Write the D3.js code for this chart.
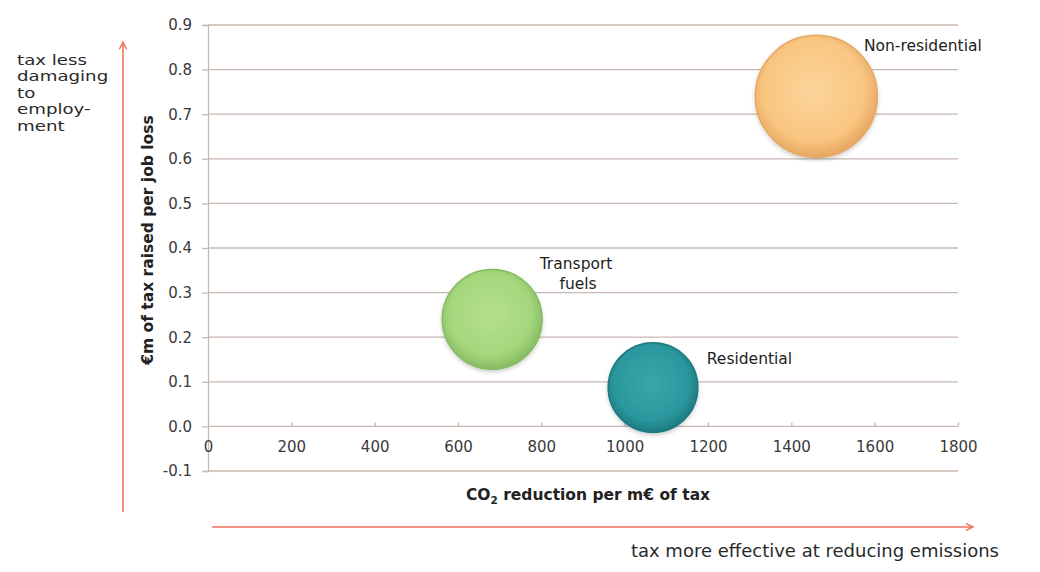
<!DOCTYPE html>
<html>
<head>
<meta charset="utf-8">
<script src="https://cdn.jsdelivr.net/npm/d3@7/dist/d3.min.js"></script>
<style>
  html, body { margin: 0; padding: 0; background: #fff; }
  svg { display: block; font-family: "DejaVu Sans", Verdana, sans-serif; }
</style>
</head>
<body>
<svg id="chart" width="1040" height="572"></svg>
<script>
// Energy tax categories: CO2 reduction per m€ of tax vs €m raised per job loss
const categories = ["Non-residential", "Transport fuels", "Residential"];
const co2Reduction = [1460, 682, 1068];
const taxPerJobLoss = [0.74, 0.24, 0.087];
const bubbleSize = [100, 67, 54];
const xTicks = [0, 200, 400, 600, 800, 1000, 1200, 1400, 1600, 1800];
const yTicks = [-0.1, 0.0, 0.1, 0.2, 0.3, 0.4, 0.5, 0.6, 0.7, 0.8, 0.9];

const palette = [
  { light: "#fcd49c", mid: "#f9c680", dark: "#e6a762" },
  { light: "#b4e08e", mid: "#a5d67c", dark: "#86bb62" },
  { light: "#3aa6ab", mid: "#2b989e", dark: "#1d7a80" }
];

const svg = d3.select("#chart");
const x = d3.scaleLinear().domain([0, 1800]).range([208, 958]);
const y = d3.scaleLinear().domain([-0.1, 0.9]).range([471, 25]);
const r = d3.scaleSqrt().domain([0, 100]).range([0, 61]);

const gridColor = "#c7b8b0";
const textColor = "#3a3a3a";
const arrowColor = "#f0715c";
const fontFamily = "'DejaVu Sans', Verdana, sans-serif";

// horizontal gridlines
svg.append("g").selectAll("line")
  .data(yTicks)
  .join("line")
  .attr("x1", x(0)).attr("x2", x(1800))
  .attr("y1", d => y(d)).attr("y2", d => y(d))
  .attr("stroke", gridColor).attr("stroke-width", 1.3);

// y axis
const fmtY = d => d3.format(".1f")(d).replace("−", "-");
const yAxis = svg.append("g")
  .attr("transform", `translate(${x(0)},0)`)
  .call(d3.axisLeft(y).tickValues(yTicks).tickFormat(fmtY).tickSize(6).tickPadding(10));
yAxis.select(".domain").attr("stroke", gridColor).attr("stroke-width", 1.3);
yAxis.selectAll(".tick line").attr("stroke", gridColor).attr("stroke-width", 1.3);
yAxis.selectAll(".tick text")
  .attr("fill", textColor).attr("font-size", 15)
  .style("font-family", fontFamily);

// x axis along y = 0, labels sitting below
const xAxis = svg.append("g")
  .attr("transform", `translate(0,${y(0)})`)
  .call(d3.axisBottom(x).tickValues(xTicks).tickFormat(d3.format("d")).tickSize(-4).tickPadding(15));
xAxis.select(".domain").remove();
xAxis.selectAll(".tick line").attr("stroke", gridColor).attr("stroke-width", 1.3);
xAxis.selectAll(".tick text")
  .attr("fill", textColor).attr("font-size", 15)
  .style("font-family", fontFamily);

// bubble shading gradients
const defs = svg.append("defs");
palette.forEach((c, i) => {
  const g = defs.append("radialGradient")
    .attr("id", "bub" + i)
    .attr("cx", "48%").attr("cy", "45%").attr("r", "55%");
  g.append("stop").attr("offset", "0%").attr("stop-color", c.light);
  g.append("stop").attr("offset", "75%").attr("stop-color", c.mid);
  g.append("stop").attr("offset", "100%").attr("stop-color", c.dark);
});
const shadow = defs.append("filter").attr("id", "soft")
  .attr("x", "-20%").attr("y", "-20%").attr("width", "140%").attr("height", "140%");
shadow.append("feGaussianBlur").attr("in", "SourceAlpha").attr("stdDeviation", 2).attr("result", "b");
shadow.append("feOffset").attr("in", "b").attr("dy", 2).attr("result", "o");
shadow.append("feComponentTransfer").append("feFuncA").attr("type", "linear").attr("slope", 0.2);
const merge = shadow.append("feMerge");
merge.append("feMergeNode");
merge.append("feMergeNode").attr("in", "SourceGraphic");

const points = categories.map((name, i) => ({
  name, x: co2Reduction[i], y: taxPerJobLoss[i], s: bubbleSize[i], i
}));

svg.append("g").selectAll("circle")
  .data(points)
  .join("circle")
  .attr("cx", d => x(d.x))
  .attr("cy", d => y(d.y))
  .attr("r", d => r(d.s))
  .attr("fill", d => `url(#bub${d.i})`)
  .attr("stroke", d => palette[d.i].dark)
  .attr("stroke-width", 1.5)
  .attr("filter", "url(#soft)");

// bubble labels
const labelOffsets = [
  { dx: 0.78, dy: -0.74, anchor: "start", lines: ["Non-residential"] },
  { dx: 1.68, dy: -1.0, anchor: "middle", lines: ["Transport", "fuels"] },
  { dx: 1.2, dy: -0.52, anchor: "start", lines: ["Residential"] }
];
points.forEach(d => {
  const o = labelOffsets[d.i];
  const rr = r(d.s);
  const lx = x(d.x) + o.dx * rr;
  const t = svg.append("text")
    .attr("x", lx)
    .attr("y", y(d.y) + o.dy * rr)
    .attr("text-anchor", o.anchor)
    .attr("font-size", 15.5)
    .attr("fill", "#222");
  o.lines.forEach((ln, k) => {
    t.append("tspan").attr("x", lx + (k ? 2 : 0)).attr("dy", k ? 20 : 0).text(ln);
  });
});

// axis titles
svg.append("text")
  .attr("transform", `translate(153,${(y(0.12) + y(0.72)) / 2 + 1}) rotate(-90)`)
  .attr("text-anchor", "middle")
  .attr("font-size", 15.5).attr("font-weight", "bold").attr("fill", "#222")
  .text("€m of tax raised per job loss");

const xt = svg.append("text")
  .attr("x", 588).attr("y", 500)
  .attr("text-anchor", "middle")
  .attr("font-size", 15.5).attr("font-weight", "bold").attr("fill", "#222");
xt.append("tspan").text("CO");
xt.append("tspan").attr("font-size", 10.5).attr("dy", 4).text("2");
xt.append("tspan").attr("dy", -4).text(" reduction per m€ of tax");

// direction arrows
defs.append("marker")
  .attr("id", "arrowhead")
  .attr("viewBox", "0 0 10 10").attr("refX", 9).attr("refY", 5)
  .attr("markerWidth", 9).attr("markerHeight", 9)
  .attr("markerUnits", "userSpaceOnUse")
  .attr("orient", "auto")
  .append("path")
  .attr("d", "M1,1 L9,5 L1,9")
  .attr("fill", "none").attr("stroke", arrowColor).attr("stroke-width", 1.6);

svg.append("line")
  .attr("x1", 123).attr("y1", 512).attr("x2", 123).attr("y2", 42)
  .attr("stroke", arrowColor).attr("stroke-width", 1.6)
  .attr("marker-end", "url(#arrowhead)");

svg.append("line")
  .attr("x1", 212).attr("y1", 527).attr("x2", 973).attr("y2", 527)
  .attr("stroke", arrowColor).attr("stroke-width", 1.6)
  .attr("marker-end", "url(#arrowhead)");

// direction notes
svg.append("text")
  .attr("x", 999).attr("y", 557)
  .attr("text-anchor", "end")
  .attr("font-size", 18).attr("fill", "#2a2a2a")
  .text("tax more effective at reducing emissions");

// stacked note beside the vertical arrow, widened to fit its column
const note = svg.append("g")
  .attr("transform", "translate(17,65) scale(1.3,1)")
  .append("text")
  .attr("x", 0).attr("y", 0)
  .attr("font-size", 14).attr("fill", "#2a2a2a");
["tax less", "damaging", "to", "employ-", "ment"].forEach((ln, k) => {
  note.append("tspan").attr("x", 0).attr("dy", k ? 16.5 : 0).text(ln);
});
</script>
</body>
</html>
